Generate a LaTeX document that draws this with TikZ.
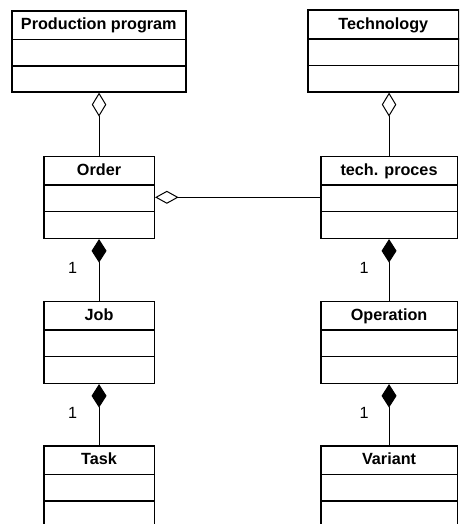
\documentclass[tikz,border=0pt]{standalone}
\usepackage{fontspec}
\setmainfont{Liberation Sans}
\usetikzlibrary{arrows.meta}

\tikzset{
  classbox/.style={draw, line width=1.6pt, rectangle, inner sep=0pt},
  divider/.style={line width=1.6pt},
  classtitle/.style={anchor=base, inner sep=0pt, font=\fontsize{16.2}{19}\selectfont\bfseries},
  multlabel/.style={inner sep=0pt, font=\fontsize{16.2}{19}\selectfont},
  assoc/.style={line width=1pt},
  aggregation/.style={assoc, {Diamond[open, length=24pt, width=14.5pt, line width=1pt]}-},
  composition/.style={assoc, {Diamond[length=23.5pt, width=15pt]}-},
}

% class box: name, left, top, width, height, title
\newcommand\umlclass[6]{%
  \node[classbox, minimum width=#4pt, minimum height=#5pt, anchor=north west] (#1) at (#2,#3) {};
  \draw[divider] ([yshift=-29.5pt]#1.north west) -- ([yshift=-29.5pt]#1.north east);
  \draw[divider] ([yshift=-56pt]#1.north west) -- ([yshift=-56pt]#1.north east);
  \node[classtitle] (#1-title) at ([yshift=-19.7pt]#1.north) {#6};
}

\begin{document}
\begin{tikzpicture}[x=1pt, y=-1pt]
  \clip (0,0) rectangle (459,524);

  \umlclass{prodprog}{11}{10}{174}{81}{Production program}
  \umlclass{technology}{307}{9.5}{151}{81.5}{Technology}
  \umlclass{order}{43}{155.5}{110.5}{82}{Order}
  \umlclass{techproc}{320}{155.5}{136.5}{82}{tech. proces}
  \umlclass{job}{43}{300.5}{110.5}{82}{Job}
  \umlclass{operation}{320}{300.5}{136.5}{82}{Operation}
  \umlclass{task}{43}{445}{110.5}{82}{Task}
  \umlclass{variant}{320}{445}{136.5}{82}{Variant}

  % aggregations
  \draw[aggregation] (prodprog.south -| order.north) -- (order.north);
  \draw[aggregation] (technology.south -| techproc.north) -- (techproc.north);
  \draw[assoc, {Diamond[open, length=23.5pt, width=13pt, line width=1pt]}-] (order.east) -- (techproc.west);

  % compositions
  \draw[composition] (order.south) -- node[multlabel, pos=0.47, xshift=-26.5pt] (m1) {1} (job.north);
  \draw[composition] (job.south) -- node[multlabel, pos=0.47, xshift=-26.5pt] (m2) {1} (task.north);
  \draw[composition] (techproc.south) -- node[multlabel, pos=0.47, xshift=-25pt] (m3) {1} (operation.north);
  \draw[composition] (operation.south) -- node[multlabel, pos=0.47, xshift=-25pt] (m4) {1} (variant.north);
\end{tikzpicture}
\end{document}
